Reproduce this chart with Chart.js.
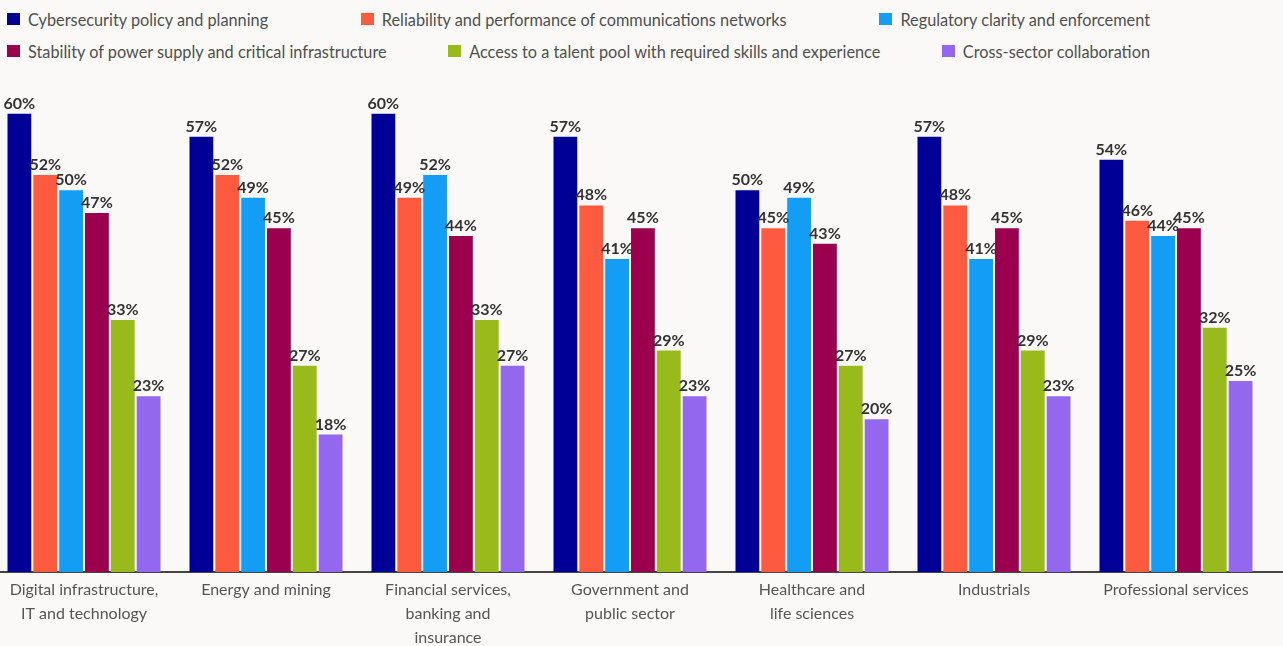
<!DOCTYPE html>
<html>
<head>
<meta charset="utf-8">
<title>Sector priorities</title>
<script src="https://cdn.jsdelivr.net/npm/chart.js@4.4.1/dist/chart.umd.min.js"></script>
<style>
  html, body { margin: 0; padding: 0; background: #faf9f7; overflow: hidden; }
  body { width: 1283px; height: 646px; position: relative; font-family: Lato, sans-serif; }
  #legend { position: absolute; left: 7px; top: 3px; width: 1143px; }
  .lg-row { display: flex; justify-content: space-between; height: 32px; align-items: center; }
  .lg-item { display: flex; align-items: center; font-size: 16.3px; color: #505050; white-space: nowrap; }
  .lg-box { width: 13px; height: 12px; margin-right: 8px; }
  #wrap { position: absolute; left: -7px; top: 0; width: 1297px; height: 646px; }
</style>
</head>
<body>
<div id="legend"></div>
<div id="wrap"><canvas id="chart"></canvas></div>
<script>
// sectors along the x axis (multi-line labels)
const sectors = [
  ["Digital infrastructure,", "IT and technology"],
  ["Energy and mining"],
  ["Financial services,", "banking and", "insurance"],
  ["Government and", "public sector"],
  ["Healthcare and", "life sciences"],
  ["Industrials"],
  ["Professional services"]
];

const seriesNames = [
  "Cybersecurity policy and planning",
  "Reliability and performance of communications networks",
  "Regulatory clarity and enforcement",
  "Stability of power supply and critical infrastructure",
  "Access to a talent pool with required skills and experience",
  "Cross-sector collaboration"
];

// share of respondents, %
const cybersecurity = [60, 57, 60, 57, 50, 57, 54];
const networks      = [52, 52, 49, 48, 45, 48, 46];
const regulation    = [50, 49, 52, 41, 49, 41, 44];
const powerSupply   = [47, 45, 44, 45, 43, 45, 45];
const talentPool    = [33, 27, 33, 29, 27, 29, 32];
const collaboration = [23, 18, 27, 23, 20, 23, 25];

const colors = ["#000096", "#fe5a3f", "#139df4", "#9b004f", "#98bb1b", "#9368ee"];
const values = [cybersecurity, networks, regulation, powerSupply, talentPool, collaboration];

const datasets = values.map((v, i) => ({
  label: seriesNames[i],
  data: v,
  backgroundColor: colors[i],
  borderWidth: 0,
  categoryPercentage: 0.852,
  barPercentage: 0.92
}));

// legend: two rows of three, spread across the width
const legendEl = document.getElementById("legend");
for (let r = 0; r < 2; r++) {
  const row = document.createElement("div");
  row.className = "lg-row";
  for (let c = 0; c < 3; c++) {
    const i = r * 3 + c;
    const item = document.createElement("div");
    item.className = "lg-item";
    const box = document.createElement("span");
    box.className = "lg-box";
    box.style.background = colors[i];
    item.appendChild(box);
    item.appendChild(document.createTextNode(seriesNames[i]));
    row.appendChild(item);
  }
  legendEl.appendChild(row);
}

// dark baseline under the bars, full width
const baseline = {
  id: "baseline",
  beforeDatasetsDraw(chart) {
    const ctx = chart.ctx;
    const y = chart.chartArea.bottom;
    ctx.save();
    ctx.strokeStyle = "#444";
    ctx.lineWidth = 2;
    ctx.beginPath();
    ctx.moveTo(0, y);
    ctx.lineTo(chart.width, y);
    ctx.stroke();
    ctx.restore();
  }
};

// percentage labels above each bar
const valueLabels = {
  id: "valueLabels",
  afterDatasetsDraw(chart) {
    const ctx = chart.ctx;
    ctx.save();
    ctx.font = "bold 16px Lato";
    ctx.fillStyle = "#333";
    ctx.textAlign = "center";
    ctx.textBaseline = "alphabetic";
    chart.data.datasets.forEach((ds, di) => {
      chart.getDatasetMeta(di).data.forEach((bar, j) => {
        ctx.fillText(ds.data[j] + "%", bar.x, bar.y - 5);
      });
    });
    ctx.restore();
  }
};

new Chart(document.getElementById("chart"), {
  type: "bar",
  data: { labels: sectors, datasets: datasets },
  options: {
    responsive: true,
    maintainAspectRatio: false,
    animation: false,
    layout: { padding: { top: 68, right: 23, left: 0, bottom: 0 } },
    plugins: {
      legend: { display: false },
      tooltip: { enabled: false }
    },
    scales: {
      x: {
        grid: { display: false, drawTicks: false },
        border: { display: false },
        ticks: {
          color: "#555",
          font: { family: "Lato", size: 16, lineHeight: 1.5 },
          padding: 6,
          maxRotation: 0,
          autoSkip: false
        },
        afterFit(scale) { scale.height = 74; }
      },
      y: {
        display: false,
        min: 0,
        max: 66
      }
    }
  },
  plugins: [baseline, valueLabels]
});
</script>
</body>
</html>
